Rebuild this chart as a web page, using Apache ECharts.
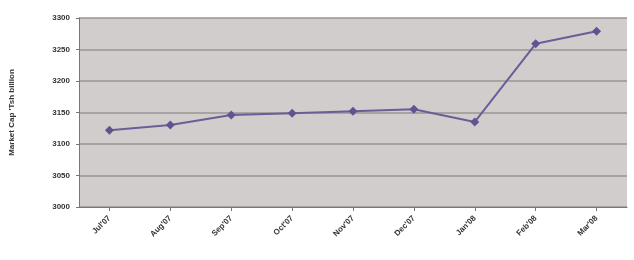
<!DOCTYPE html>
<html>
<head>
<meta charset="UTF-8">
<title>Market Cap</title>
<script src="https://cdn.jsdelivr.net/npm/echarts@6/dist/echarts.min.js"></script>
<style>
html,body{margin:0;padding:0;width:100%;height:100%;background:#fff;}
#chart{width:634px;height:260px;}
</style>
</head>
<body>
<div id="chart"></div>
<script>
var months = ["Jul'07","Aug'07","Sep'07","Oct'07","Nov'07","Dec'07","Jan'08","Feb'08","Mar'08"];
var marketCap = [3122, 3130, 3146, 3149, 3152, 3155, 3135, 3259, 3279];

var chart = echarts.init(document.getElementById('chart'));
chart.setOption({
    animation: false,
    grid: {left: 79, right: 7, top: 18, bottom: 53, show: true, backgroundColor: '#d2cdcd', borderWidth: 0},
    xAxis: {
        type: 'category',
        data: months,
        boundaryGap: true,
        axisLine: {lineStyle: {color: '#777', width: 1}},
        axisTick: {show: true, alignWithLabel: true, length: 4, lineStyle: {color: '#777'}},
        axisLabel: {rotate: 45, fontFamily: 'Liberation Sans', fontSize: 8, fontWeight: 'bold', color: '#333', margin: 10}
    },
    yAxis: {
        type: 'value',
        min: 3000,
        max: 3300,
        interval: 50,
        name: "Market Cap 'Tsh billion",
        nameLocation: 'middle',
        nameGap: 63,
        nameTextStyle: {fontFamily: 'Liberation Sans', fontSize: 8, fontWeight: 'bold', color: '#333'},
        axisLine: {show: true, lineStyle: {color: '#777'}},
        axisTick: {show: true, length: 3, lineStyle: {color: '#777'}},
        axisLabel: {fontFamily: 'Liberation Sans', fontSize: 8, fontWeight: 'bold', color: '#333', margin: 9,
            formatter: function (v) { return String(v); }},
        splitLine: {lineStyle: {color: '#9a9494', width: 1.5}}
    },
    series: [{
        type: 'line',
        data: marketCap,
        symbol: 'diamond',
        symbolSize: 9,
        lineStyle: {color: '#6a5e98', width: 2},
        itemStyle: {color: '#5f5490'}
    }]
});
</script>
</body>
</html>
